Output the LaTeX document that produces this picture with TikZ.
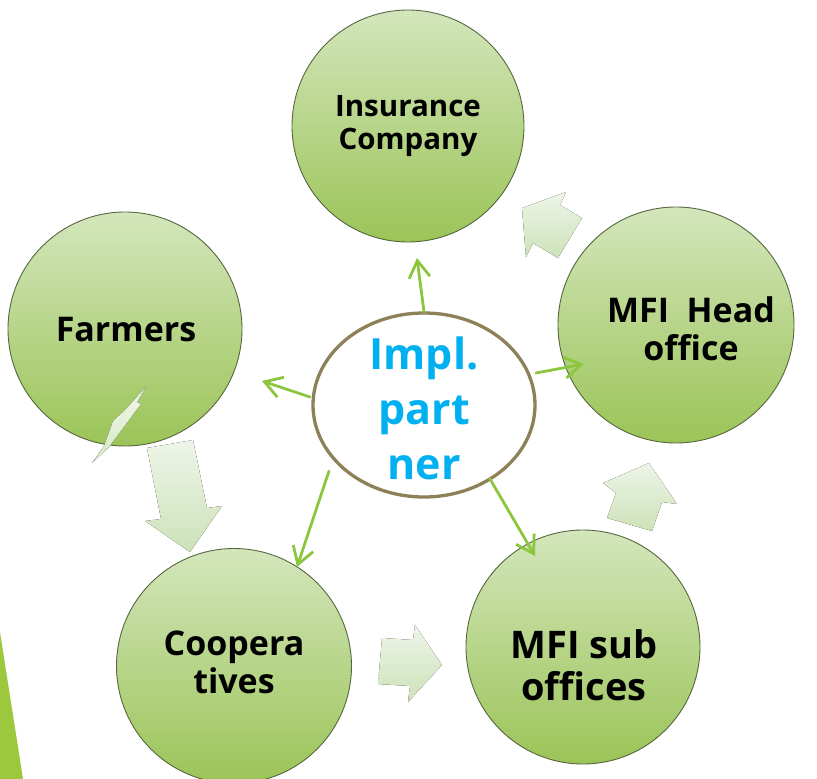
\documentclass[tikz,border=0pt]{standalone}
\usepackage{fontspec}
\setmainfont{Open Sans}
\usetikzlibrary{arrows.meta,shapes.geometric}

\definecolor{leafTop}{HTML}{D3E6BC}
\definecolor{leafBottom}{HTML}{9BC457}
\definecolor{bubbleEdge}{HTML}{56663E}
\definecolor{linkGreen}{HTML}{8CC63F}
\definecolor{hubEdge}{HTML}{8C8158}
\definecolor{hubText}{HTML}{00B0F0}
\definecolor{flowTop}{HTML}{EEF5E8}
\definecolor{flowBottom}{HTML}{CCE2B8}
\definecolor{shardTop}{HTML}{F2F8EC}
\definecolor{shardBottom}{HTML}{D3E7C0}
\definecolor{stripGreen}{HTML}{9CC83E}

\begin{document}
\begin{tikzpicture}[x=1pt,y=-1pt,
  bubble/.style={circle, draw=bubbleEdge, line width=0.9pt,
    top color=leafTop, bottom color=leafBottom, minimum size=#1, inner sep=0pt},
  caption/.style={align=center, text=black, inner sep=0pt},
  link/.style={draw=linkGreen, line width=2.8pt, line cap=round,
    -{Straight Barb[length=17pt,width=21pt]}},
  flow/.style={top color=flowTop, bottom color=flowBottom, draw=none}]

\useasboundingbox (0,0) rectangle (817,779);

% green strip at the lower left edge
\fill[stripGreen] (0,632) -- (23,779) -- (0,779) -- cycle;

% the five partner bubbles
\node[bubble=232pt] (ins)  at (408,126) {};
\node[bubble=234pt] (farm) at (125,329) {};
\node[bubble=236pt] (head) at (676,325) {};
\node[bubble=235pt] (coop) at (234,666) {};
\node[bubble=234pt] (sub)  at (583,647) {};

% bubble captions
\node[caption, font=\bfseries\fontsize{29.5}{33}\selectfont] (insT) at (408,126) {Insurance\\Company};
\node[caption, font=\bfseries\fontsize{34}{38}\selectfont] (farmT) at (126,330) {Farmers};
\node[caption, font=\bfseries\fontsize{34}{38}\selectfont] (headT) at (691,329) {MFI\ \ Head\\office};
\node[caption, font=\bfseries\fontsize{34}{38}\selectfont] (coopT) at (234,662) {Coopera\\tives};
\node[caption, font=\bfseries\fontsize{38}{42}\selectfont] (subT) at (584,665) {MFI sub\\offices};

% process flow block arrows
\fill[flow] (147,448) -- (193,440) -- (207,508) -- (222,506) -- (190,552) -- (145,521) -- (161,519) -- cycle;
\fill[flow] (382,638) -- (413,640) -- (415,625) -- (442,665) -- (408,702) -- (410,686) -- (378,684) -- cycle;
\fill[flow] (603,483) -- (649,463) -- (677,504) -- (662,502) -- (652,531) -- (607,518) -- (616,493) -- cycle;
\fill[flow] (522,208) -- (566,192) -- (560,205) -- (582,218) -- (558,258) -- (533,243) -- (526,257) -- cycle;

% light shard on the lower rim of the farmers bubble
\fill[top color=shardTop, bottom color=shardBottom]
  (146,387) -- (137,402) -- (141,404) -- (109,447) -- (92,463) -- (104,446) -- (113,421) -- (125,410) -- cycle;

% implementing partner hub
\node[ellipse, draw=hubEdge, line width=3.3pt, fill=white,
  minimum width=222pt, minimum height=184pt, inner sep=0pt] (hub) at (424,405) {};
\node[caption, text=hubText, font=\bfseries\fontsize{43}{55}\selectfont] (hubT) at (424,408) {Impl.\\part\\ner};

% connector end points
\coordinate (hubN) at (424,312);
\coordinate (hubW) at (310,397);
\coordinate (hubE) at (536,373);
\coordinate (hubSW) at (329,471);
\coordinate (hubSE) at (490,479);
\coordinate (insIn) at (417,258);
\coordinate (farmIn) at (262,381);
\coordinate (headIn) at (584,364);
\coordinate (coopIn) at (297,567);
\coordinate (subIn) at (535,556);

\draw[link] (hubN) -- (insIn);
\draw[link] (hubW) -- (farmIn);
\draw[link] (hubE) -- (headIn);
\draw[link] (hubSW) -- (coopIn);
\draw[link] (hubSE) -- (subIn);

\end{tikzpicture}
\end{document}
